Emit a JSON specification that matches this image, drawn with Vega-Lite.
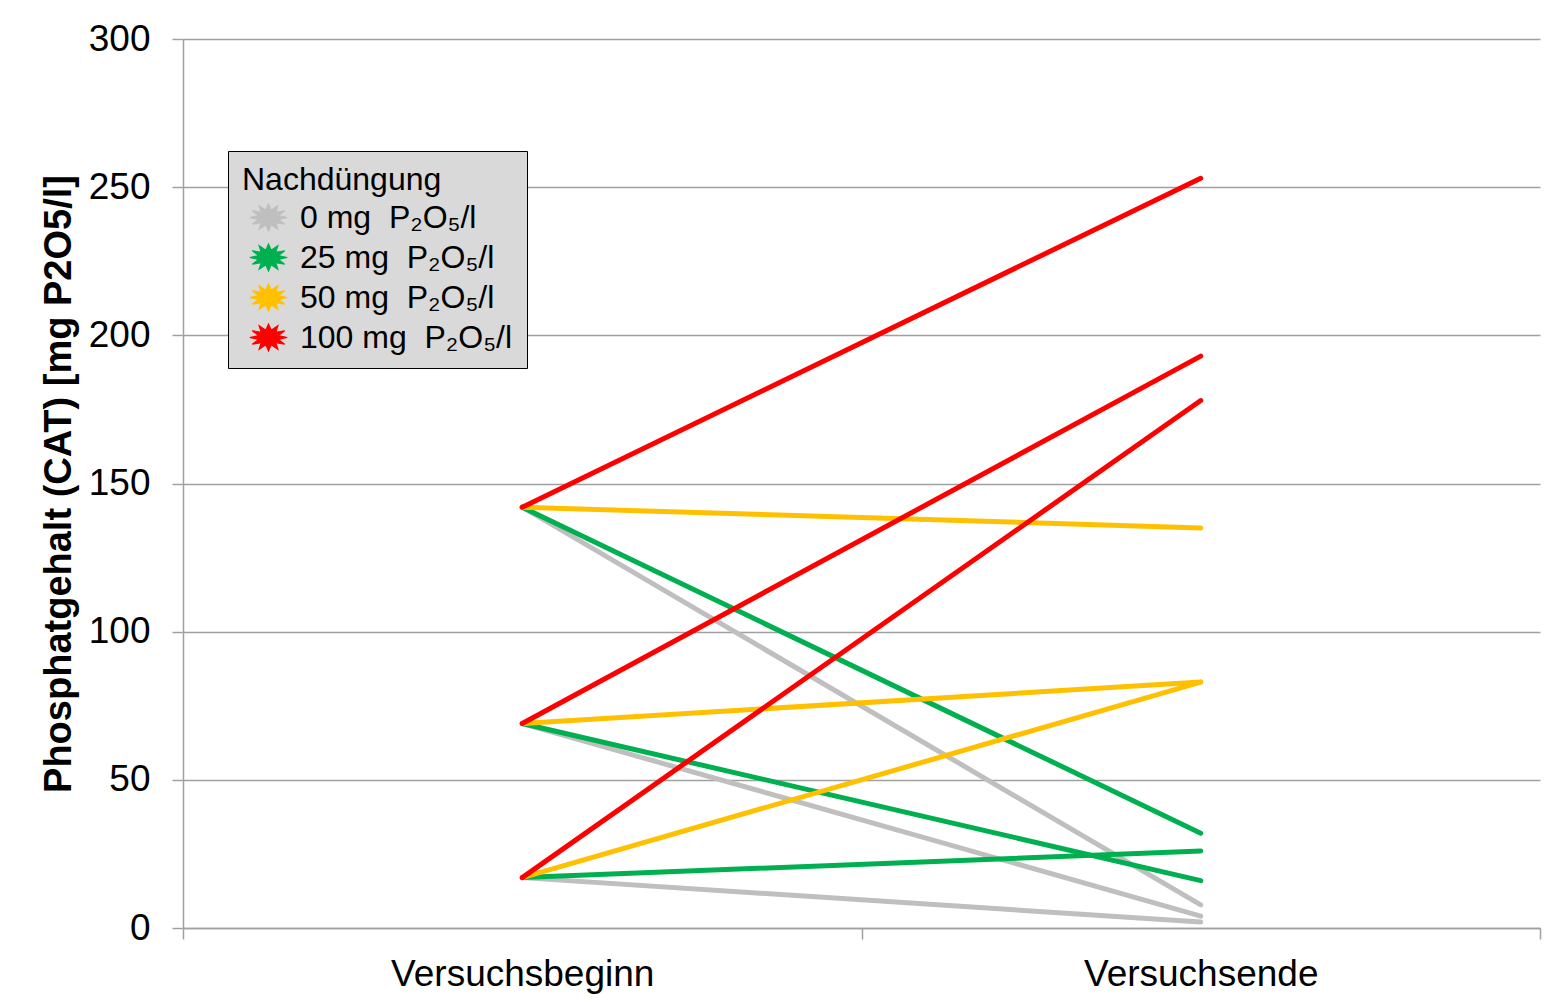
{
  "$schema": "https://vega.github.io/schema/vega-lite/v6.json",
  "width": 1357,
  "height": 889,
  "autosize": {"type": "none"},
  "padding": {"left": 183, "top": 39, "right": 17, "bottom": 75},
  "background": "white",
  "config": {
    "font": "Liberation Sans",
    "view": {"stroke": null},
    "legend": {"symbolStrokeColor": "black", "symbolStrokeWidth": 1.2}
  },
  "data": {
    "values": [
      {"dose": "0 mg\u00a0 P₂O₅/l", "start": "A", "phase": "Versuchsbeginn", "value": 142},
      {"dose": "0 mg\u00a0 P₂O₅/l", "start": "A", "phase": "Versuchsende", "value": 7.8},
      {"dose": "0 mg\u00a0 P₂O₅/l", "start": "B", "phase": "Versuchsbeginn", "value": 69},
      {"dose": "0 mg\u00a0 P₂O₅/l", "start": "B", "phase": "Versuchsende", "value": 4},
      {"dose": "0 mg\u00a0 P₂O₅/l", "start": "C", "phase": "Versuchsbeginn", "value": 17},
      {"dose": "0 mg\u00a0 P₂O₅/l", "start": "C", "phase": "Versuchsende", "value": 2},
      {"dose": "25 mg\u00a0 P₂O₅/l", "start": "A", "phase": "Versuchsbeginn", "value": 142},
      {"dose": "25 mg\u00a0 P₂O₅/l", "start": "A", "phase": "Versuchsende", "value": 32},
      {"dose": "25 mg\u00a0 P₂O₅/l", "start": "B", "phase": "Versuchsbeginn", "value": 69},
      {"dose": "25 mg\u00a0 P₂O₅/l", "start": "B", "phase": "Versuchsende", "value": 16},
      {"dose": "25 mg\u00a0 P₂O₅/l", "start": "C", "phase": "Versuchsbeginn", "value": 17},
      {"dose": "25 mg\u00a0 P₂O₅/l", "start": "C", "phase": "Versuchsende", "value": 26},
      {"dose": "50 mg\u00a0 P₂O₅/l", "start": "A", "phase": "Versuchsbeginn", "value": 142},
      {"dose": "50 mg\u00a0 P₂O₅/l", "start": "A", "phase": "Versuchsende", "value": 135},
      {"dose": "50 mg\u00a0 P₂O₅/l", "start": "B", "phase": "Versuchsbeginn", "value": 69},
      {"dose": "50 mg\u00a0 P₂O₅/l", "start": "B", "phase": "Versuchsende", "value": 83},
      {"dose": "50 mg\u00a0 P₂O₅/l", "start": "C", "phase": "Versuchsbeginn", "value": 17},
      {"dose": "50 mg\u00a0 P₂O₅/l", "start": "C", "phase": "Versuchsende", "value": 83},
      {"dose": "100 mg\u00a0 P₂O₅/l", "start": "A", "phase": "Versuchsbeginn", "value": 142},
      {"dose": "100 mg\u00a0 P₂O₅/l", "start": "A", "phase": "Versuchsende", "value": 253},
      {"dose": "100 mg\u00a0 P₂O₅/l", "start": "B", "phase": "Versuchsbeginn", "value": 69},
      {"dose": "100 mg\u00a0 P₂O₅/l", "start": "B", "phase": "Versuchsende", "value": 193},
      {"dose": "100 mg\u00a0 P₂O₅/l", "start": "C", "phase": "Versuchsbeginn", "value": 17},
      {"dose": "100 mg\u00a0 P₂O₅/l", "start": "C", "phase": "Versuchsende", "value": 178}
    ]
  },
  "encoding": {
    "x": {
      "field": "phase",
      "type": "nominal",
      "bandPosition": 0.5,
      "scale": {"type": "band", "domain": ["Versuchsbeginn", "Versuchsende"], "paddingInner": 0, "paddingOuter": 0},
      "axis": {
        "title": null,
        "labelAngle": 0,
        "labelFontSize": 37,
        "labelColor": "black",
        "labelPadding": 17,
        "labelLimit": 0,
        "tickBand": "extent",
        "tickSize": 11,
        "tickColor": "#a0a0a0",
        "tickWidth": 1.5,
        "domainColor": "#a0a0a0",
        "domainWidth": 1.5,
        "grid": false
      }
    },
    "y": {
      "field": "value",
      "type": "quantitative",
      "scale": {"domain": [0, 300], "nice": false, "zero": true},
      "axis": {
        "title": "Phosphatgehalt (CAT) [mg P2O5/l]",
        "titleFontSize": 38,
        "titleFontWeight": "bold",
        "titleColor": "black",
        "titlePadding": 10,
        "titleLimit": 0,
        "values": [0, 50, 100, 150, 200, 250, 300],
        "labelFontSize": 37,
        "labelColor": "black",
        "labelPadding": 22,
        "tickSize": 11,
        "tickColor": "#a0a0a0",
        "tickWidth": 1.5,
        "domainColor": "#a0a0a0",
        "domainWidth": 1.5,
        "grid": true,
        "gridColor": "#a0a0a0",
        "gridWidth": 1.5
      }
    }
  },
  "layer": [
    {
      "mark": {
        "type": "point",
        "filled": true,
        "opacity": 1,
        "size": 0,
        "stroke": "black",
        "strokeWidth": 1.2,
        "shape": "M1,0L0.531,0.102L0.866,0.36L0.389,0.28L0.5,0.624L0.142,0.382L0,0.72L-0.142,0.382L-0.5,0.624L-0.389,0.28L-0.866,0.36L-0.531,0.102L-1,0L-0.531,-0.102L-0.866,-0.36L-0.389,-0.28L-0.5,-0.624L-0.142,-0.382L0,-0.72L0.142,-0.382L0.5,-0.624L0.389,-0.28L0.866,-0.36L0.531,-0.102Z"
      },
      "encoding": {
        "fill": {
          "field": "dose",
          "type": "nominal",
          "scale": {
            "domain": ["0 mg\u00a0 P₂O₅/l", "25 mg\u00a0 P₂O₅/l", "50 mg\u00a0 P₂O₅/l", "100 mg\u00a0 P₂O₅/l"],
            "range": ["#bfbfbf", "#00b050", "#ffc000", "#ff0000"]
          },
          "legend": {
            "title": "Nachdüngung",
            "orient": "none",
            "legendX": 45,
            "legendY": 112,
            "padding": 14,
            "fillColor": "#d9d9d9",
            "strokeColor": "black",
            "titleFontSize": 32,
            "titleFontWeight": "normal",
            "titleColor": "black",
            "titlePadding": 1,
            "titleLimit": 0,
            "labelFontSize": 32,
            "labelColor": "black",
            "labelOffset": 12,
            "labelLimit": 0,
            "labelExpr": "datum.label + '\u00a0\u00a0\u00a0\u00a0'",
            "rowPadding": 4,
            "symbolOffset": 7,
            "symbolSize": 1400,
            "symbolStrokeColor": "black",
            "symbolStrokeWidth": 1.2,
            "symbolType": "M1,0L0.531,0.102L0.866,0.36L0.389,0.28L0.5,0.624L0.142,0.382L0,0.72L-0.142,0.382L-0.5,0.624L-0.389,0.28L-0.866,0.36L-0.531,0.102L-1,0L-0.531,-0.102L-0.866,-0.36L-0.389,-0.28L-0.5,-0.624L-0.142,-0.382L0,-0.72L0.142,-0.382L0.5,-0.624L0.389,-0.28L0.866,-0.36L0.531,-0.102Z",
            "encode": {
              "symbols": {
                "update": {
                  "stroke": {"value": "black"},
                  "strokeWidth": {"value": 1.2}
                }
              }
            }
          }
        }
      }
    },
    {
      "mark": {"type": "line", "strokeWidth": 5, "strokeCap": "round", "strokeJoin": "round"},
      "encoding": {
        "stroke": {
          "field": "dose",
          "type": "nominal",
          "scale": {
            "domain": ["0 mg\u00a0 P₂O₅/l", "25 mg\u00a0 P₂O₅/l", "50 mg\u00a0 P₂O₅/l", "100 mg\u00a0 P₂O₅/l"],
            "range": ["#bfbfbf", "#00b050", "#ffc000", "#ff0000"]
          },
          "legend": null
        },
        "detail": {"field": "start", "type": "nominal"}
      }
    }
  ]
}
